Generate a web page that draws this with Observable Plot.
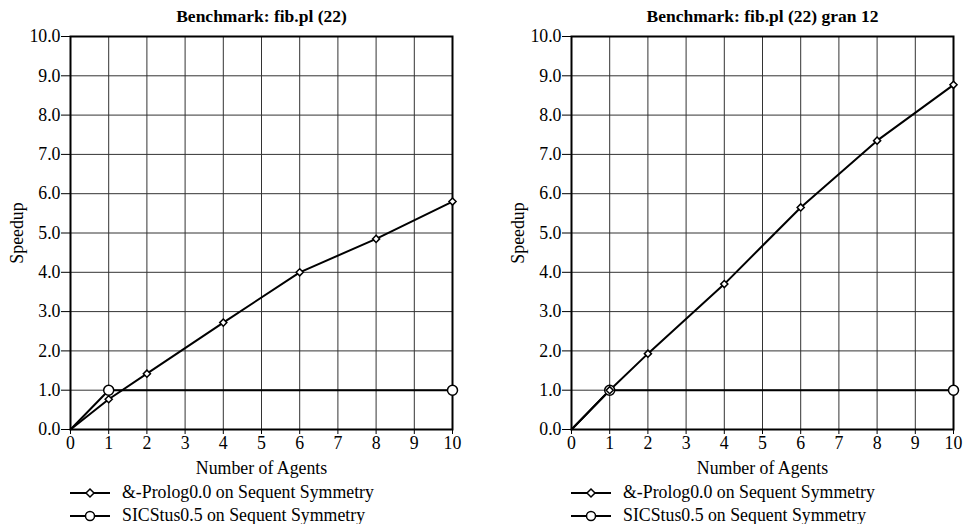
<!DOCTYPE html>
<html>
<head>
<meta charset="utf-8">
<script src="https://cdn.jsdelivr.net/npm/d3@7"></script>
<script src="https://cdn.jsdelivr.net/npm/@observablehq/plot@0.6"></script>
<style>
  html, body { margin: 0; padding: 0; background: #fff; }
  #root { position: relative; width: 964px; height: 524px; overflow: hidden; font-family: "Liberation Serif", "Times New Roman", serif; }
  .panel { position: absolute; top: 0; }
  .legend { position: absolute; font-size: 17.8px; color: #000; }
  .legend .row { display: flex; align-items: center; height: 23px; }
  .legend .row span { margin-left: 12px; }
</style>
</head>
<body>
<div id="root"></div>
<script>
// ---- data ----
const agents = [0, 1, 2, 4, 6, 8, 10];
const prologLeft = [0, 0.77, 1.42, 2.72, 4.0, 4.85, 5.8];
const prologRight = [0, 1.0, 1.93, 3.7, 5.65, 7.35, 8.77];
const sicstusAgents = [0, 1, 10];
const sicstusLeft = [0, 1.0, 1.0];
const sicstusRight = [0, 1.0, 1.0];
const seriesNames = ["&-Prolog0.0 on Sequent Symmetry", "SICStus0.5 on Sequent Symmetry"];
const titles = ["Benchmark: fib.pl (22)", "Benchmark: fib.pl (22) gran 12"];
const xTicks = [0, 1, 2, 3, 4, 5, 6, 7, 8, 9, 10];
const yTicks = [0, 1, 2, 3, 4, 5, 6, 7, 8, 9, 10];

const root = document.getElementById("root");

function makePanel(title, prolog, sicstus, left, marginLeft, marginRight) {
  const pData = agents.map((a, i) => ({x: a, y: prolog[i]}));
  const sData = sicstusAgents.map((a, i) => ({x: a, y: sicstus[i]}));
  const width = 482;
  const plot = Plot.plot({
    width,
    height: 480,
    marginLeft,
    marginRight,
    marginTop: 36,
    marginBottom: 51,
    style: {fontFamily: "'Liberation Serif', 'Times New Roman', serif", fontSize: "17.8px", color: "#000", background: "#fff"},
    x: {domain: [0, 10], ticks: xTicks, tickSize: 5, tickPadding: 2, label: "Number of Agents", labelArrow: false, labelAnchor: "center", labelOffset: 44, tickFormat: d3.format("d")},
    y: {domain: [0, 10], ticks: yTicks, tickSize: 9, tickPadding: 1, label: "Speedup", labelArrow: false, labelAnchor: "center", labelOffset: 60, tickFormat: d3.format(".1f")},
    marks: [
      Plot.gridX(xTicks, {stroke: "#333", strokeOpacity: 1, strokeWidth: 1}),
      Plot.gridY(yTicks, {stroke: "#333", strokeOpacity: 1, strokeWidth: 1}),
      Plot.frame({stroke: "#000", strokeWidth: 2}),
      Plot.line(sData, {x: "x", y: "y", stroke: "#000", strokeWidth: 2}),
      Plot.line(pData, {x: "x", y: "y", stroke: "#000", strokeWidth: 2}),
      Plot.dot(sData.filter(d => d.x > 0), {x: "x", y: "y", r: 5, fill: "#fff", stroke: "#000", strokeWidth: 1.5}),
      Plot.dot(pData.filter(d => d.x > 0), {x: "x", y: "y", r: 3.2, symbol: "diamond2", fill: "#fff", stroke: "#000", strokeWidth: 1.5}),
      Plot.text([title], {frameAnchor: "top", dy: -15, lineAnchor: "bottom", text: d => d, fontWeight: "bold", fontSize: 17.5})
    ]
  });
  const div = document.createElement("div");
  div.className = "panel";
  div.style.left = left + "px";
  div.appendChild(plot);
  root.appendChild(div);

  // legend
  const lg = document.createElement("div");
  lg.className = "legend";
  lg.style.left = (left + marginLeft) + "px";
  lg.style.top = "481px";
  seriesNames.forEach((name, i) => {
    const row = document.createElement("div");
    row.className = "row";
    const ns = "http://www.w3.org/2000/svg";
    const svg = document.createElementNS(ns, "svg");
    svg.setAttribute("width", 40); svg.setAttribute("height", 12);
    const ln = document.createElementNS(ns, "line");
    ln.setAttribute("x1", 0); ln.setAttribute("x2", 40); ln.setAttribute("y1", 6); ln.setAttribute("y2", 6);
    ln.setAttribute("stroke", "#000"); ln.setAttribute("stroke-width", 2);
    svg.appendChild(ln);
    if (i === 0) {
      const p = document.createElementNS(ns, "path");
      p.setAttribute("d", "M20,2 L24,6 L20,10 L16,6 Z");
      p.setAttribute("fill", "#fff"); p.setAttribute("stroke", "#000"); p.setAttribute("stroke-width", 1.5);
      svg.appendChild(p);
    } else {
      const c = document.createElementNS(ns, "circle");
      c.setAttribute("cx", 20); c.setAttribute("cy", 6); c.setAttribute("r", 4.5);
      c.setAttribute("fill", "#fff"); c.setAttribute("stroke", "#000"); c.setAttribute("stroke-width", 1.5);
      svg.appendChild(c);
    }
    row.appendChild(svg);
    const sp = document.createElement("span");
    sp.textContent = name;
    row.appendChild(sp);
    lg.appendChild(row);
  });
  root.appendChild(lg);
}

makePanel(titles[0], prologLeft, sicstusLeft, 0, 70, 30);
makePanel(titles[1], prologRight, sicstusRight, 482, 89, 11);
</script>
</body>
</html>
